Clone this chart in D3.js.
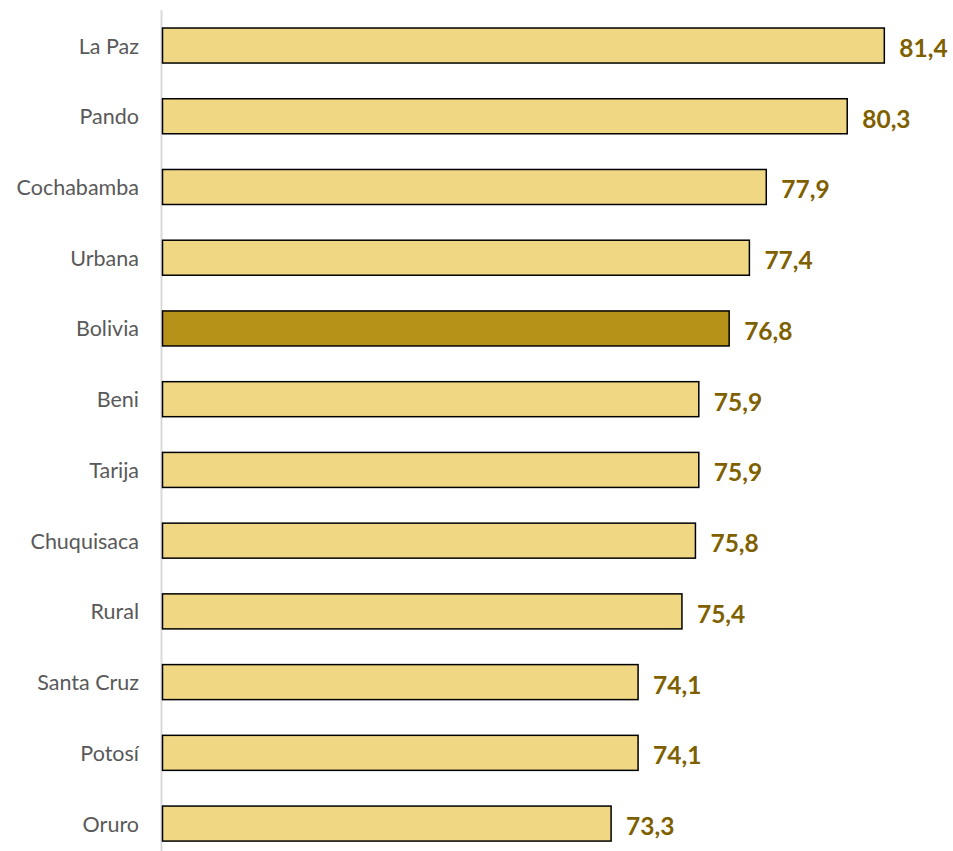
<!DOCTYPE html>
<html><head><meta charset="utf-8">
<script src="https://cdn.jsdelivr.net/npm/d3@7"></script>
<style>body{margin:0;background:#fff}svg{display:block}</style>
</head><body>
<script>
const categories = ["La Paz","Pando","Cochabamba","Urbana","Bolivia","Beni","Tarija","Chuquisaca","Rural","Santa Cruz","Potosí","Oruro"];
const values = [81.4,80.3,77.9,77.4,76.8,75.9,75.9,75.8,75.4,74.1,74.1,73.3];
const highlight = ["Bolivia"];

const W = 953, H = 851;
const svg = d3.select("body").append("svg").attr("width", W).attr("height", H);

const x = d3.scaleLinear().domain([60, 85]).range([162.5, 162.5 + 25 * 33.73]);
const y = d3.scaleBand().domain(categories).range([-7.7, 876.8]).paddingInner(0.505).paddingOuter(0.505);

// axis line
svg.append("line").attr("x1", 161.5).attr("x2", 161.5).attr("y1", 10).attr("y2", 851)
  .attr("stroke", "#d9d9d9").attr("stroke-width", 2);

const data = categories.map((c, i) => ({c, v: values[i]}));

svg.selectAll("rect.bar").data(data).join("rect").attr("class", "bar")
  .attr("x", x(60)).attr("y", d => y(d.c))
  .attr("width", d => x(d.v) - x(60)).attr("height", y.bandwidth())
  .attr("fill", d => highlight.includes(d.c) ? "#b79218" : "#f0d784")
  .attr("stroke", "#000").attr("stroke-width", 1.5);

svg.selectAll("text.cat").data(data).join("text").attr("class", "cat")
  .attr("x", 139).attr("y", d => y(d.c) + y.bandwidth() / 2)
  .attr("text-anchor", "end").attr("dominant-baseline", "central")
  .attr("font-family", "Lato, 'Open Sans', sans-serif").attr("font-size", 21.5)
  .attr("fill", "#595959").text(d => d.c);

svg.selectAll("text.val").data(data).join("text").attr("class", "val")
  .attr("x", d => x(d.v) + 15).attr("y", d => y(d.c) + y.bandwidth() / 2 + 2)
  .attr("dominant-baseline", "central")
  .attr("font-family", "Lato, 'Open Sans', sans-serif").attr("font-weight", "bold").attr("font-size", 24.5)
  .attr("fill", "#7f6000").text(d => d3.format(".1f")(d.v).replace(".", ","));
</script>
</body></html>
